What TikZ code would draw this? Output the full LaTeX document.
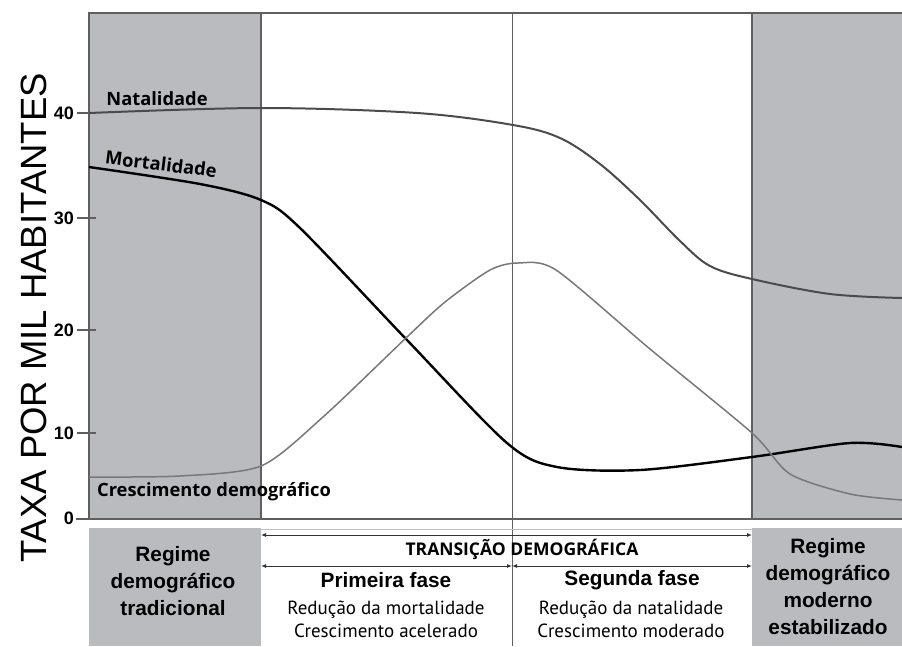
\documentclass[tikz,border=0pt]{standalone}
\usepackage{fontspec}
\setmainfont{PT Sans}
\newfontfamily\arialfont{Liberation Sans}
\newfontfamily\labelfont{Open Sans}
\usetikzlibrary{arrows.meta}
\definecolor{panelgray}{RGB}{186,187,191}
\definecolor{framegray}{RGB}{95,95,95}
\definecolor{natgray}{RGB}{75,75,75}
\definecolor{crescgray}{RGB}{120,120,120}

\begin{document}
\begin{tikzpicture}[x=1pt, y=-1pt,
    frame/.style = {draw=framegray, line width=1.6pt},
    divider/.style = {draw=framegray, line width=0.9pt},
    curvelab/.style = {font=\labelfont\bfseries\fontsize{18.3}{18.3}\selectfont, inner sep=0pt},
    ticklab/.style = {font=\arialfont\bfseries\fontsize{18}{18}\selectfont, anchor=east, inner sep=0pt},
    boxtxt/.style = {align=center, inner sep=0pt, font=\arialfont\bfseries\fontsize{20.8}{27}\selectfont},
    smalltxt/.style = {align=center, inner sep=0pt, font=\fontsize{19}{23}\selectfont},
    spanarrow/.style = {{Latex[length=5pt,width=4pt]}-{Latex[length=5pt,width=4pt]}, draw=black!80, line width=0.9pt}]
  \useasboundingbox (0,0) rectangle (902,646);
  % shaded regimes
  \fill[panelgray] (89,13) rectangle (261,519); % left, chart
  \fill[panelgray] (752,13) rectangle (902,519); % right, chart
  \fill[panelgray] (89,528) rectangle (261,646); % left, table
  \fill[panelgray] (752,528) rectangle (902,646); % right, table
  % frame and dividers
  \draw[frame] (902,13) -- (89,13) -- (89,519);
  \draw[frame] (76,519) -- (902,519);
  \draw[frame] (261,13) -- (261,519);
  \draw[frame] (752,13) -- (752,519);
  \draw[divider] (512,13) -- (512,646);
  \draw[draw=black!25, line width=0.6pt] (261,529) -- (752,529);
  % ticks
  \draw[frame, line width=1.2pt] (77,113) -- (96,113);
  \draw[frame, line width=1.2pt] (77,218) -- (96,218);
  \draw[frame, line width=1.2pt] (77,330) -- (96,330);
  \draw[frame, line width=1.2pt] (77,433) -- (96,433);
  \node[ticklab] (t40) at (74,113) {40};
  \node[ticklab] (t30) at (74,218) {30};
  \node[ticklab] (t20) at (74,330) {20};
  \node[ticklab] (t10) at (74,433) {10};
  \node[ticklab] (t0) at (74,518) {0};
  \node[rotate=90, inner sep=0pt, font=\arialfont\fontsize{36.5}{36.5}\selectfont] (ylab) at (34,318) {TAXA POR MIL HABITANTES};
  % curves
  \draw[natgray, line width=2pt] plot[smooth, tension=0.55] coordinates {(89,113) (261,108) (417,113) (513,125) (560,138) (600,164) (640,200) (680,241) (710,266) (752,279) (830,294) (902,298)};
  \draw[black, line width=2.4pt] plot[smooth, tension=0.5] coordinates {(89,167) (200,184) (261,200) (300,228) (407,340) (507,443) (557,467) (640,470) (752,457) (850,443) (902,447)};
  \draw[crescgray, line width=1.5pt] plot[smooth, tension=0.45] coordinates {(89,477) (180,476) (261,466) (323,417) (407,337) (445,302) (490,270) (518,263) (556,270) (650,349) (752,433) (790,474) (850,494) (902,500)};
  % curve labels
  \node[curvelab] (nat) at (157,99) {Natalidade};
  \node[curvelab, rotate=-7] (mort) at (161,164) {Mortalidade};
  \node[curvelab] (cresc) at (214,492) {Crescimento demográfico};
  % table
  \coordinate (ttl) at (261,535);
  \coordinate (ttr) at (752,535);
  \coordinate (fl) at (261,566);
  \coordinate (fm) at (512,566);
  \coordinate (fr) at (752,566);
  \draw[spanarrow] (ttl) -- (ttr);
  \draw[spanarrow] (fl) -- (fm);
  \draw[spanarrow] (fm) -- (fr);
  \node[curvelab, font=\labelfont\bfseries\fontsize{17.5}{17.5}\selectfont] (trans) at (522,549) {TRANSIÇÃO DEMOGRÁFICA};
  \node[boxtxt] (trad) at (173,581) {Regime\\demográfico\\tradicional};
  \node[boxtxt] (moder) at (828,587) {Regime\\demográfico\\moderno\\estabilizado};
  \node[boxtxt] (fase1) at (386,580) {Primeira fase};
  \node[boxtxt] (fase2) at (632,580) {Segunda fase};
  \node[smalltxt] (fase1txt) at (386,619) {Redução da mortalidade\\Crescimento acelerado};
  \node[smalltxt] (fase2txt) at (631,619) {Redução da natalidade\\Crescimento moderado};
\end{tikzpicture}
\end{document}
